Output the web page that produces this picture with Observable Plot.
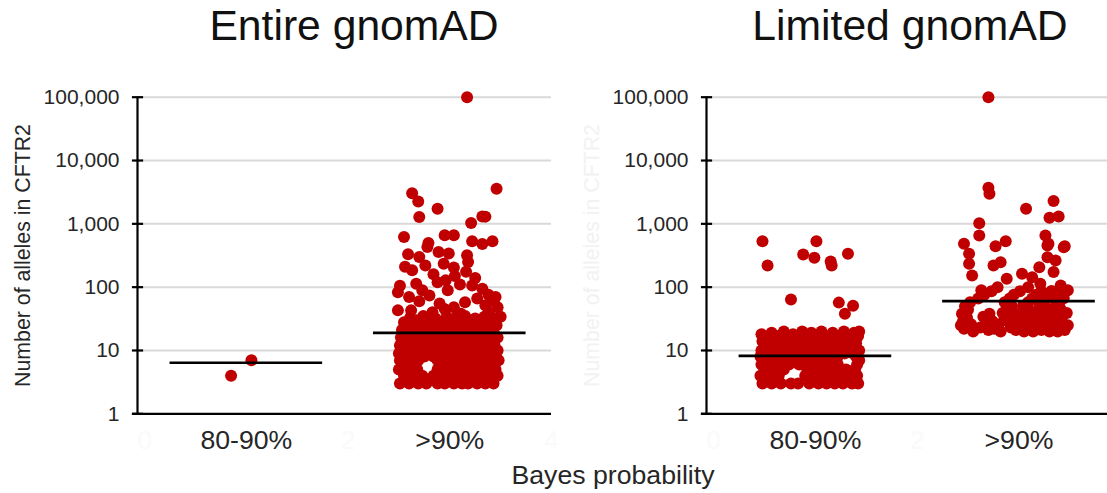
<!DOCTYPE html>
<html>
<head>
<meta charset="utf-8">
<script src="https://cdn.jsdelivr.net/npm/d3@7"></script>
<script src="https://cdn.jsdelivr.net/npm/@observablehq/plot@0.6"></script>
<style>
  html, body { margin: 0; padding: 0; background: #fff; }
  #chart { position: relative; width: 1107px; height: 493px; overflow: hidden;
           font-family: "Liberation Sans", Arial, sans-serif; color: #262626; }
  .title { position: absolute; width: 400px; text-align: center; font-size: 42.67px; line-height: 1; color: #111; }
  .xlabel { position: absolute; width: 400px; text-align: center; font-size: 26.67px; line-height: 1; color: #262626; }
  .panel { position: absolute; top: 70px; }
</style>
</head>
<body>
<div id="chart">
  <div class="title" style="left:154px; top:4px;">Entire gnomAD</div>
  <div class="title" style="left:710px; top:4px;">Limited gnomAD</div>
  <div class="panel" id="left" style="left:0px;"></div>
  <div class="panel" id="right" style="left:560px;"></div>
  <div class="xlabel" style="left:413px; top:462px;">Bayes probability</div>
</div>
<script>
// Category labels and their positions on the numeric x axis
const categories = ["80-90%", ">90%"];
const categoryX = [1, 3];
// Numeric x ticks (drawn almost white)
const hiddenXTicks = [0, 2, 4];
// Log y ticks
const yTicks = [1, 10, 100, 1000, 10000, 100000];
const yLabel = "Number of alleles in CFTR2";

// Medians (black bars) per category
const entireMedians = [6.4, 19];
const limitedMedians = [8.2, 60];

// Entire gnomAD, 80-90%: [jittered x, alleles]
const entireLow = [[0.85, 4], [1.05, 7]];

// Entire gnomAD, >90%
const entireHigh = [
  [3.17,100000],[2.63,3050],[2.69,2260],[2.70,1280],[2.88,1730],[3.46,3590],[3.21,1030],[3.32,1310],
  [3.35,1300],[2.55,620],[2.79,500],[2.95,660],[3.04,660],[3.22,530],[3.42,530],[3.32,480],
  [2.59,330],[2.70,300],[2.78,430],[2.89,360],[2.99,340],[3.17,320],[3.18,250],[2.56,210],
  [2.63,185],[2.76,220],[2.84,160],[2.94,235],[3.04,205],[3.16,175],[2.51,105],[2.49,83],
  [2.67,113],[2.73,89],[2.80,74],[2.96,128],[2.98,89],[3.22,106],[3.32,94],[3.45,70],
  [3.27,66],[2.49,43],[2.62,43],[2.83,40],[3.04,48],[3.11,38],[3.47,48],[3.50,34],
  [3.38,40],[3.05,150],[3.25,140],[3.38,76],[3.43,60],[2.88,120],[3.10,110],[2.70,60],
  [2.90,55],[3.15,58],[2.60,70],[3.35,52],[2.95,45],
  [2.51,3],[2.60,3],[2.69,3],[2.77,3],[2.88,3],[2.95,3],[3.04,3],[3.12,3],[3.18,3],[3.27,3],[3.35,3],[3.43,3],
  [2.55,4],[2.64,4],[2.73,4],[2.84,4],[2.92,4],[3.00,4],[3.08,4],[3.16,4],[3.23,4],[3.31,4],[3.39,4],[3.47,4],
  [2.50,5],[2.59,5],[2.68,5],[2.88,5],[2.97,5],[3.05,5],[3.14,5],[3.21,5],[3.29,5],[3.37,5],[3.45,5],
  [2.54,6],[2.63,6],[2.92,6],[3.01,6],[3.09,6],[3.18,6],[3.26,6],[3.35,6],[3.44,6],
  [2.51,7],[2.60,7],[2.69,7],[2.88,7],[2.97,7],[3.05,7],[3.13,7],[3.22,7],[3.30,7],[3.40,7],[3.48,7],
  [2.55,8],[2.65,8],[2.75,8],[2.84,8],[2.93,8],[3.02,8],[3.10,8],[3.19,8],[3.27,8],[3.36,8],[3.45,8],
  [2.50,9],[2.60,9],[2.70,9],[2.79,9],[2.88,9],[2.98,9],[3.07,9],[3.15,9],[3.24,9],[3.33,9],[3.41,9],
  [2.54,10],[2.64,11],[2.74,10],[2.84,11],[2.94,10],[3.03,11],[3.12,10],[3.21,11],[3.30,10],[3.39,11],[3.47,10],
  [2.51,12],[2.60,13],[2.70,12],[2.80,13],[2.90,12],[2.99,13],[3.08,12],[3.17,13],[3.26,12],[3.35,13],[3.44,12],
  [2.55,14],[2.66,15],[2.76,14],[2.86,15],[2.95,14],[3.05,15],[3.14,14],[3.23,15],[3.32,14],[3.42,15],
  [2.52,16],[2.62,17],[2.72,16],[2.82,17],[2.92,16],[3.01,17],[3.10,16],[3.20,17],[3.29,16],[3.38,17],[3.47,16],
  [2.57,18],[2.68,20],[2.79,19],[2.89,18],[2.98,20],[3.07,19],[3.16,18],[3.25,20],[3.34,19],[3.44,18],
  [2.53,21],[2.64,23],[2.75,22],[2.85,21],[2.95,23],[3.04,22],[3.13,21],[3.22,23],[3.31,22],[3.41,21],
  [2.59,25],[2.70,24],[2.81,26],[2.91,25],[3.01,24],[3.10,26],[3.19,25],[3.28,24],[3.38,26],[3.46,25],
  [2.55,28],[2.67,30],[2.78,29],[2.88,28],[2.98,30],[3.08,29],[3.17,28],[3.26,30],[3.36,29],[3.44,28],
  [2.61,33],[2.74,35],[2.86,32],[2.97,34],[3.06,33],[3.15,35],[3.25,32],[3.34,34],[3.42,33]
];

// Limited gnomAD, 80-90%
const limitedLow = [
  [0.48,533],[0.53,220],[1.01,533],[0.88,329],[0.99,291],[1.15,255],[1.16,220],[1.32,337],
  [0.76,64],[1.23,57],[1.37,51],[1.29,38],
  [0.48,3],[0.57,3],[0.66,3],[0.76,3],[0.83,3],[0.94,3],[1.03,3],[1.11,3],[1.19,3],[1.27,3],[1.36,3],[1.42,3],
  [0.46,4],[0.55,4],[0.64,4],[0.90,4],[0.99,4],[1.08,4],[1.17,4],[1.25,4],[1.33,4],[1.41,4],
  [0.50,5],[0.60,5],[0.69,5],[0.92,5],[1.01,5],[1.13,5],[1.22,5],[1.30,5],[1.39,5],
  [0.47,6],[0.56,6],[0.66,6],[0.74,6],[0.84,6],[0.95,6],[1.05,6],[1.15,6],[1.22,6],[1.41,6],
  [0.52,7],[0.62,7],[0.71,7],[0.80,7],[0.89,7],[0.99,7],[1.09,7],[1.19,7],[1.43,7],
  [0.46,8],[0.58,8],[0.68,8],[0.77,8],[0.86,8],[0.96,8],[1.05,8],[1.14,8],[1.22,8],[1.40,8],
  [0.51,9],[0.63,9],[0.74,9],[0.83,9],[0.92,9],[1.01,9],[1.11,9],[1.20,9],[1.29,9],[1.37,9],
  [0.47,10],[0.56,11],[0.67,10],[0.78,11],[0.88,10],[0.97,11],[1.06,10],[1.16,11],[1.25,10],[1.34,11],[1.43,10],
  [0.52,12],[0.61,13],[0.72,12],[0.82,13],[0.93,12],[1.03,13],[1.12,12],[1.21,13],[1.31,12],[1.40,13],
  [0.48,14],[0.58,15],[0.66,14],[0.76,15],[0.86,14],[0.98,15],[1.08,14],[1.18,15],[1.27,14],[1.36,15],
  [0.54,16],[0.63,17],[0.73,16],[0.81,17],[0.91,16],[1.01,17],[1.13,16],[1.23,17],[1.33,16],[1.42,17],
  [0.47,18],[0.57,19],[0.69,20],[0.78,18],[0.87,20],[0.96,19],[1.06,20],[1.17,19],[1.28,20],[1.38,19],[1.43,20]
];

// Limited gnomAD, >90%
const limitedHigh = [
  [2.70,100000],[2.70,3720],[2.71,2990],[3.07,1730],[3.34,2285],[3.30,1250],[3.39,1310],[2.61,1025],
  [2.61,656],[2.46,485],[2.87,533],[2.77,444],[3.26,656],[3.29,485],[3.45,444],
  [2.51,337],[2.51,234],[2.54,153],[2.75,220],[2.82,248],[2.88,136],[3.28,456],[3.44,428],
  [3.28,298],[3.36,264],[3.34,173],[3.20,207],[3.03,163],[3.13,144],[2.63,89],[2.79,100],
  [3.09,100],[3.21,113],[3.41,106],[3.48,89],
  [2.55,20],[2.70,21],[2.82,20],[2.97,21],[3.05,20],[3.14,20],[3.22,21],[3.30,20],[3.38,20],[3.45,21],
  [2.46,22],[2.62,23],[2.76,22],[2.92,23],[3.10,23],[3.18,22],[3.27,23],[3.43,23],
  [2.43,25],[2.53,26],[2.68,25],[2.80,26],[2.95,25],[3.05,26],[3.13,25],[3.31,25],[3.40,26],[3.48,25],
  [2.45,29],[2.74,29],[2.86,30],[2.99,29],[3.08,30],[3.18,29],[3.28,30],[3.37,29],
  [2.49,33],[2.65,34],[2.90,34],[3.02,33],[3.21,33],[3.33,34],[3.42,33],
  [2.44,38],[2.71,38],[2.84,39],[2.96,38],[3.06,39],[3.16,38],[3.26,39],[3.47,39],
  [2.50,44],[2.88,44],[3.10,44],[3.20,45],[3.31,44],[3.41,45],
  [2.47,50],[2.93,50],[3.04,51],[3.25,51],[3.36,50],
  [2.52,58],[2.86,58],[3.09,58],[3.19,59],[3.40,59],
  [2.60,66],[2.91,66],[3.13,66],[3.24,67],[3.34,66],[3.44,67],
  [2.66,76],[2.95,76],[3.17,76],[3.28,77],[3.38,76],
  [2.73,86],[3.01,86],[3.22,86],[3.32,87],[3.46,86]
];

const RED = "#c00000";
const TEXT = "#262626";
const X0 = -0.07; // where the value axis sits

function panel({points, medians, xMax, width, marginLeft, marginRight, labelColor}) {
  return Plot.plot({
    width,
    height: 390,
    marginLeft,
    marginRight,
    marginTop: 26.7,
    marginBottom: 46.7,
    style: {fontFamily: '"Liberation Sans", Arial, sans-serif', color: TEXT, background: "transparent", overflow: "visible"},
    x: {domain: [X0, xMax], axis: null},
    y: {type: "log", domain: [1, 100000], axis: null},
    marks: [
      // horizontal gridlines
      Plot.ruleY(yTicks.slice(1), {x1: X0, x2: xMax, stroke: "#d9d9d9", strokeWidth: 2}),
      // jittered observations
      Plot.dot(points, {x: d => d[0], y: d => d[1], r: 6, fill: RED}),
      // median bars
      Plot.ruleY(medians, {y: d => d, x1: (d, i) => categoryX[i] - 0.75, x2: (d, i) => categoryX[i] + 0.75,
                           stroke: "black", strokeWidth: 2.7}),
      // value axis with cross ticks
      Plot.ruleX([X0], {stroke: "black", strokeWidth: 2.2}),
      Plot.ruleY(yTicks, {x1: X0 - 0.05, x2: X0 + 0.06, stroke: "black", strokeWidth: 2.2}),
      Plot.ruleY([1], {x1: X0 - 0.05, x2: xMax, stroke: "black", strokeWidth: 2.2}),
      Plot.text(yTicks, {x: X0, y: d => d, text: d => d3.format(",")(d), textAnchor: "end", dx: -18,
                         fontSize: 21, fill: TEXT}),
      // numeric x ticks, nearly invisible
      Plot.text(hiddenXTicks.filter(v => v <= xMax), {x: d => d, y: 1, text: d => String(d), dy: 34.7,
                         lineAnchor: "bottom", fontSize: 26.67, fill: "#fafafa"}),
      // category labels
      Plot.text(categories, {x: (d, i) => categoryX[i], y: 1, text: d => d, dy: 34.7,
                         lineAnchor: "bottom", fontSize: 26.67, fill: TEXT}),
      // axis title
      Plot.text([yLabel], {frameAnchor: "left", text: d => d, rotate: -90, dx: -114, textAnchor: "middle",
                         fontSize: 21.3, fill: labelColor})
    ]
  });
}

document.getElementById("left").append(panel({
  points: [...entireLow, ...entireHigh], medians: entireMedians,
  xMax: 4.0, width: 560, marginLeft: 137, marginRight: 9, labelColor: TEXT
}));
document.getElementById("right").append(panel({
  points: [...limitedLow, ...limitedHigh], medians: limitedMedians,
  xMax: 3.87, width: 547, marginLeft: 146, marginRight: 0, labelColor: "#f2f2f2"
}));
</script>
</body>
</html>
